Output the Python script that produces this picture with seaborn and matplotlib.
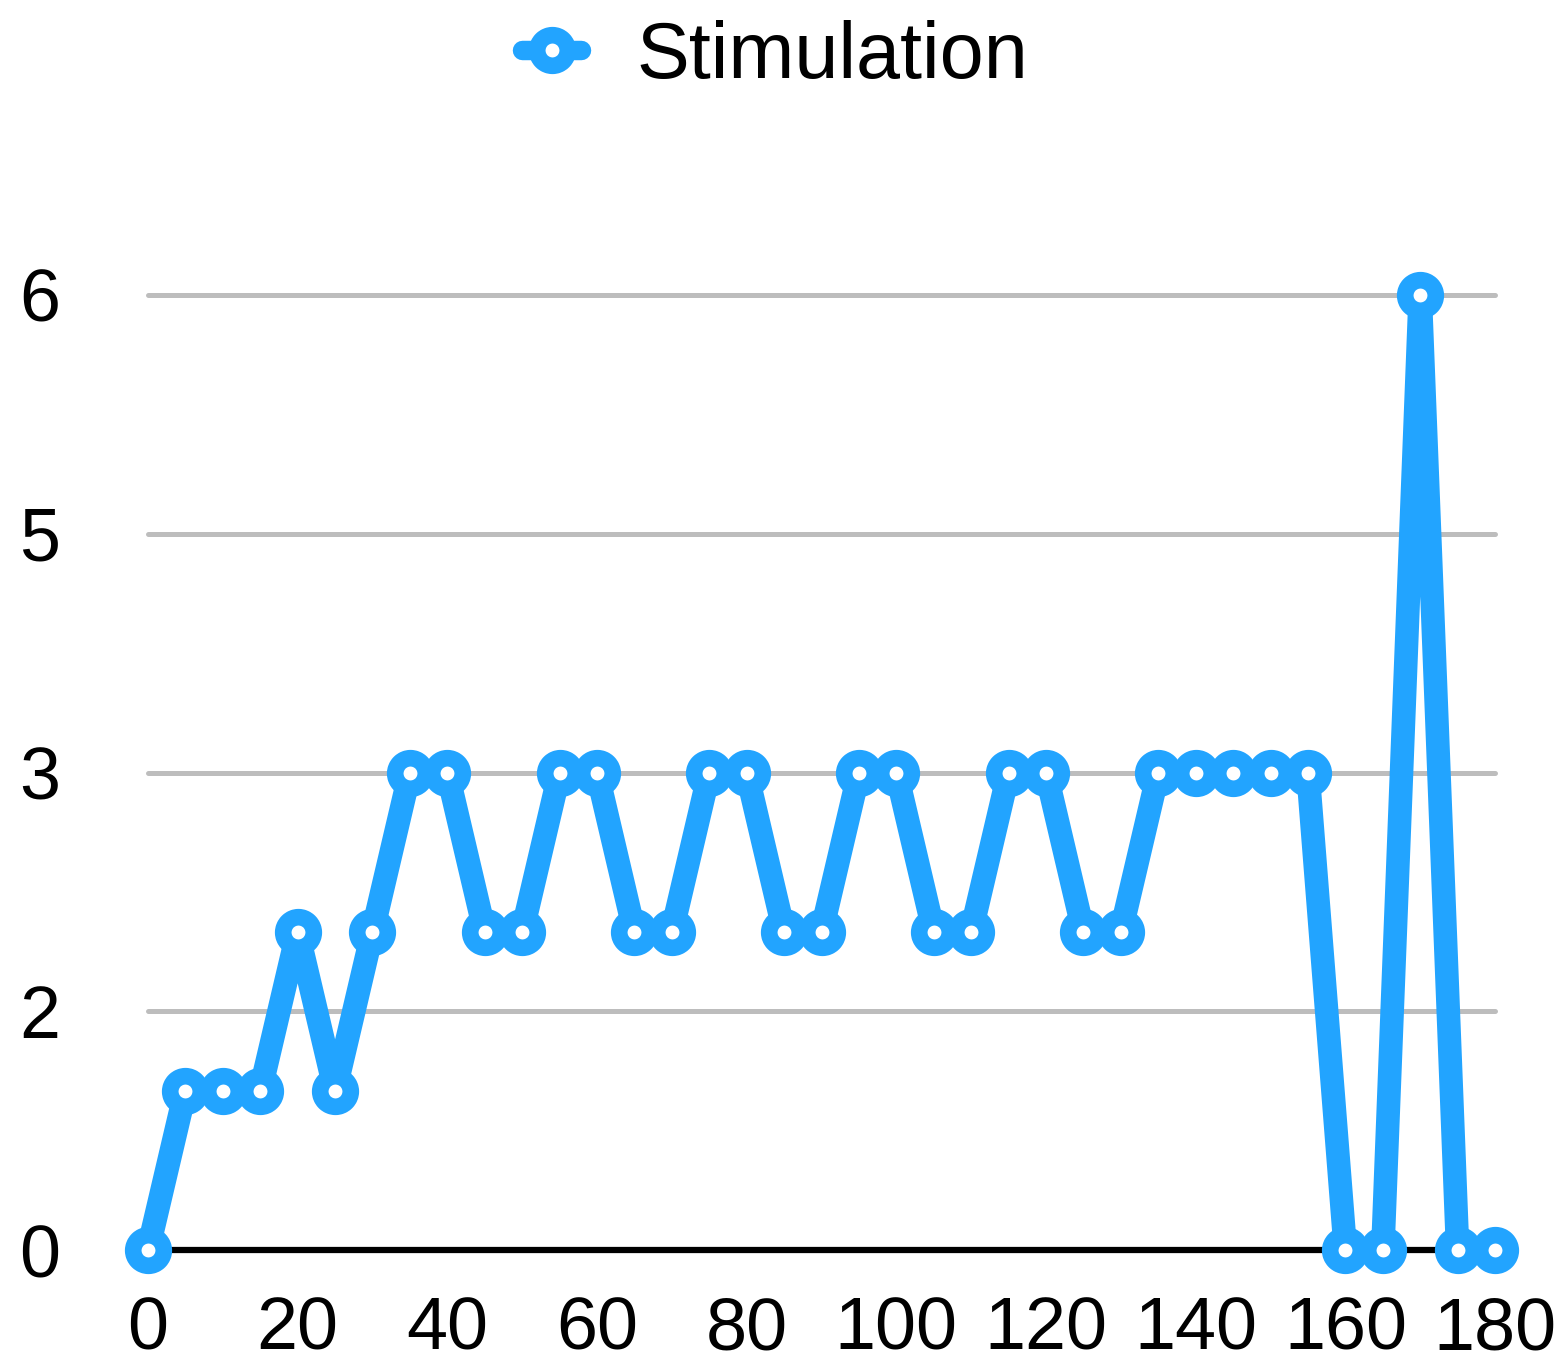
import matplotlib
matplotlib.use("Agg")
import matplotlib.pyplot as plt
import seaborn as sns
import pandas as pd

x_values = list(range(0, 185, 5))
stimulation = [0, 1, 1, 1, 2, 1, 2, 3, 3, 2, 2, 3, 3, 2, 2, 3, 3, 2, 2, 3, 3,
               2, 2, 3, 3, 2, 2, 3, 3, 3, 3, 3, 0, 0, 6, 0, 0]
x_ticks = list(range(0, 200, 20))
y_ticks = [0, 1.5, 3, 4.5, 6]
y_tick_labels = ["0", "2", "3", "5", "6"]
series_name = "Stimulation"

df = pd.DataFrame({"x": x_values, "y": stimulation})

sns.set_theme(style="white")
plt.rcParams['font.family'] = ['Liberation Sans', 'DejaVu Sans']

color = "#22A4FF"
fig = plt.figure(figsize=(15.66, 13.65), dpi=100)
ax = fig.add_axes([0.0945, 0.0842, 0.8602, 0.6997])

for yv in y_ticks[1:]:
    ax.axhline(yv, color="#BDBDBD", lw=3.6, zorder=0)
ax.axhline(0, color="black", lw=4.5, zorder=1)

sns.lineplot(data=df, x="x", y="y", ax=ax, color=color, lw=17,
             marker="o", markersize=22, markeredgewidth=12,
             markerfacecolor="white", markeredgecolor=color,
             clip_on=False, zorder=3, legend=False)
for l in ax.lines:
    l.set_clip_on(False)

ax.set_xlim(0, 180)
ax.set_ylim(0, 6)
ax.set_xticks(x_ticks)
ax.set_yticks(y_ticks)
ax.set_yticklabels(y_tick_labels)
ax.tick_params(axis="both", length=0, labelsize=53, colors="black")
ax.tick_params(axis="y", pad=63)
ax.tick_params(axis="x", pad=33)
for lbl in ax.get_yticklabels():
    lbl.set_horizontalalignment("right")
ax.set_xlabel("")
ax.set_ylabel("")
for s in ax.spines.values():
    s.set_visible(False)
ax.grid(False)

handles = [plt.Line2D([0], [0], color=color, lw=14, marker="o", markersize=22,
                      markeredgewidth=12, markerfacecolor="white",
                      markeredgecolor=color)]
leg = fig.legend(handles, [series_name], loc="center", bbox_to_anchor=(0.495, 0.958),
                 frameon=False, fontsize=57, handlelength=0.75, handletextpad=0.7)
for t in leg.get_texts():
    t.set_color("black")

fig.savefig("out.png", dpi=100)
